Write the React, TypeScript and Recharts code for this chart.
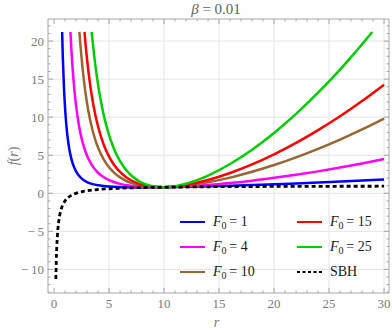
import { LineChart, Line, XAxis, YAxis, CartesianGrid, ReferenceLine, ReferenceArea, Legend } from "recharts";

const W = 392;
const H = 333;
const SERIF = "'Liberation Serif', 'Times New Roman', serif";

const X_MIN = -0.55;
const X_MAX = 30.45;
const Y_MIN = -13.1;
const Y_MAX = 22.9;
const PLOT_W = 341;
const PLOT_H = 274;

const X_TICKS = [0, 5, 10, 15, 20, 25, 30];
const Y_TICKS = [-10, -5, 0, 5, 10, 15, 20];
const X_GRID = [5, 10, 15, 20, 25, 30];
const X_MINOR = Array.from({ length: 30 }, (_, i) => i + 1).filter((v) => v % 5 !== 0);
const Y_MINOR = Array.from({ length: 36 }, (_, i) => i - 13).filter((v) => v % 5 !== 0);

// F0 = 1
const R_BLUE = [0.735, 0.8, 0.9, 1, 1.1, 1.2, 1.3, 1.4, 1.5, 1.6, 1.8, 2, 2.25, 2.5, 2.75, 3, 3.5, 4, 4.5, 5, 6, 7, 8, 9, 10, 11, 12, 14, 16, 18, 20, 22, 24, 26, 28, 30];
const F_BLUE = [21.2, 17.78, 13.96, 11.25, 9.26, 7.76, 6.61, 5.7, 4.98, 4.39, 3.5, 2.88, 2.34, 1.96, 1.69, 1.48, 1.21, 1.05, 0.95, 0.88, 0.81, 0.78, 0.775, 0.78, 0.8, 0.82, 0.85, 0.92, 0.99, 1.08, 1.18, 1.29, 1.41, 1.54, 1.67, 1.82];

// F0 = 4
const R_MAGENTA = [1.49, 1.5, 1.6, 1.7, 1.8, 1.9, 2, 2.25, 2.5, 2.75, 3, 3.5, 4, 4.5, 5, 6, 7, 8, 9, 10, 11, 12, 14, 16, 18, 20, 22, 24, 26, 28, 30];
const F_MAGENTA = [21.2, 20.91, 18.29, 16.14, 14.34, 12.82, 11.52, 9.01, 7.23, 5.92, 4.93, 3.57, 2.7, 2.13, 1.73, 1.24, 0.98, 0.85, 0.8, 0.8, 0.84, 0.9, 1.09, 1.35, 1.66, 2.03, 2.43, 2.88, 3.38, 3.91, 4.49];

// F0 = 10
const R_BROWN = [2.305, 2.4, 2.5, 2.75, 3, 3.25, 3.5, 3.75, 4, 4.5, 5, 5.5, 6, 6.5, 7, 7.5, 8, 9, 10, 11, 12, 14, 16, 18, 20, 22, 24, 26, 28, 30];
const F_BROWN = [21.2, 19.44, 17.78, 14.39, 11.83, 9.85, 8.29, 7.03, 6.01, 4.49, 3.41, 2.65, 2.09, 1.68, 1.38, 1.16, 1.0, 0.83, 0.8, 0.86, 1.0, 1.45, 2.06, 2.83, 3.71, 4.72, 5.84, 7.06, 8.39, 9.82];

// F0 = 15
const R_RED = [2.765, 2.875, 3, 3.25, 3.5, 3.75, 4, 4.5, 5, 5.5, 6, 6.5, 7, 7.5, 8, 9, 10, 11, 12, 14, 16, 18, 20, 22, 24, 26, 28, 30];
const F_RED = [21.2, 19.4, 17.58, 14.59, 12.22, 10.31, 8.77, 6.45, 4.82, 3.65, 2.8, 2.17, 1.71, 1.37, 1.13, 0.86, 0.8, 0.89, 1.09, 1.74, 2.66, 3.79, 5.12, 6.62, 8.3, 10.12, 12.12, 14.27];

// F0 = 25
const R_GREEN = [3.42, 3.5, 3.625, 3.75, 4, 4.25, 4.5, 5, 5.5, 6, 6.5, 7, 7.5, 8, 8.5, 9, 10, 11, 12, 13, 14, 16, 18, 20, 22, 24, 26, 27, 28, 28.92];
const F_GREEN = [21.2, 20.08, 18.39, 16.88, 14.28, 12.15, 10.38, 7.63, 5.66, 4.22, 3.16, 2.37, 1.8, 1.38, 1.1, 0.92, 0.8, 0.93, 1.25, 1.73, 2.33, 3.85, 5.73, 7.93, 10.43, 13.22, 16.26, 17.89, 19.58, 21.2];

// Schwarzschild
const R_SBH = [0.163, 0.2, 0.25, 0.3, 0.35, 0.4, 0.5, 0.6, 0.7, 0.8, 1, 1.25, 1.5, 2, 2.5, 3, 4, 5, 6, 8, 10, 12, 15, 20, 25, 30];
const F_SBH = [-11.27, -9, -7, -5.67, -4.71, -4, -3, -2.33, -1.86, -1.5, -1, -0.6, -0.33, 0, 0.2, 0.33, 0.5, 0.6, 0.67, 0.75, 0.8, 0.83, 0.87, 0.9, 0.92, 0.93];

const toPoints = (rs: number[], fs: number[]) => rs.map((r, i) => ({ r, f: fs[i] }));

const SERIES = [
  { f0: "1", color: "#0000ff", data: toPoints(R_BLUE, F_BLUE) },
  { f0: "4", color: "#ff00ff", data: toPoints(R_MAGENTA, F_MAGENTA) },
  { f0: "10", color: "#996633", data: toPoints(R_BROWN, F_BROWN) },
  { f0: "15", color: "#ff0000", data: toPoints(R_RED, F_RED) },
  { f0: "25", color: "#00cc00", data: toPoints(R_GREEN, F_GREEN) },
];
const SBH = toPoints(R_SBH, F_SBH);

const FRAME = "#a6a6a6";
const LABEL = "#7a7a7a";

const pxX = (X_MAX - X_MIN) / PLOT_W;
const pxY = (Y_MAX - Y_MIN) / PLOT_H;

const fmt = (v: number) => (v < 0 ? `\u2212\u2009${Math.abs(v)}` : `${v}`);

function FrameLegend() {
  const items = [
    ...SERIES.map((s) => ({ key: s.f0, color: s.color, dashed: false, f0: s.f0 })),
    { key: "sbh", color: "#000", dashed: true, f0: "" },
  ];
  return (
    <div style={{ position: "relative", width: 200, height: 70, fontFamily: SERIF, fontSize: 14, color: "#1a1a1a" }}>
      {items.map((it, i) => {
        const col = Math.floor(i / 3);
        const row = i % 3;
        return (
          <div key={it.key} style={{ position: "absolute", left: col * 117, top: row * 25, height: 20, display: "flex", alignItems: "center", whiteSpace: "nowrap" }}>
            <svg width={25} height={20} style={{ display: "block" }}>
              <line x1={0} x2={25} y1={10} y2={10} stroke={it.color} strokeWidth={2} strokeDasharray={it.dashed ? "3 2.5" : undefined} />
            </svg>
            <span style={{ marginLeft: 8, lineHeight: "20px" }}>
              {it.dashed ? (
                "SBH"
              ) : (
                <>
                  <i>F</i>
                  <span style={{ fontSize: 10, position: "relative", top: 3 }}>0</span>
                  {`\u2009= ${it.f0}`}
                </>
              )}
            </span>
          </div>
        );
      })}
    </div>
  );
}

export default function App() {
  return (
    <div style={{ position: "absolute", left: 0, top: 0, width: W, height: H, background: "#fff" }}>
      <LineChart width={W} height={H} margin={{ top: 19, right: 3, left: 0, bottom: 0 }}>
        <CartesianGrid stroke="#e4e4e4" strokeWidth={1} horizontalValues={Y_TICKS} verticalValues={X_GRID} />
        <XAxis
          type="number"
          dataKey="r"
          domain={[X_MIN, X_MAX]}
          ticks={X_TICKS}
          interval={0}
          allowDataOverflow
          axisLine={false}
          tickLine={false}
          tickSize={0}
          tickMargin={6}
          height={40}
          tick={{ fill: LABEL, fontSize: 13, fontFamily: SERIF }}
          label={(p: any) => {
            const vb = p.viewBox || { x: 48, y: 293, width: PLOT_W, height: 40 };
            return (
              <text x={vb.x + vb.width / 2 - 2} y={vb.y + 34} textAnchor="middle" fill={LABEL} fontFamily={SERIF} fontSize={14} fontStyle="italic">
                r
              </text>
            );
          }}
        />
        <YAxis
          type="number"
          domain={[Y_MIN, Y_MAX]}
          ticks={Y_TICKS}
          interval={0}
          allowDataOverflow
          axisLine={false}
          tickLine={false}
          tickSize={0}
          tickMargin={4}
          width={48}
          tickFormatter={fmt}
          tick={{ fill: LABEL, fontSize: 13, fontFamily: SERIF }}
          label={(p: any) => {
            const vb = p.viewBox || { x: 0, y: 19, width: 48, height: PLOT_H };
            const cy = vb.y + vb.height / 2;
            return (
              <text x={18} y={cy} textAnchor="middle" transform={`rotate(-90 18 ${cy})`} fill={LABEL} fontFamily={SERIF} fontSize={14}>
                <tspan fontStyle="italic">f</tspan>(<tspan fontStyle="italic">r</tspan>)
              </text>
            );
          }}
        />
        <ReferenceArea x1={X_MIN} x2={X_MAX} y1={Y_MIN} y2={Y_MAX} fill="none" fillOpacity={0} stroke={FRAME} strokeWidth={1} ifOverflow="visible" />
        {[...X_TICKS.map((v) => [v, 5]), ...X_MINOR.map((v) => [v, 2.5])].map(([v, len]) => [
          <ReferenceLine key={`xb${v}`} segment={[{ x: v, y: Y_MIN }, { x: v, y: Y_MIN + len * pxY }]} stroke={FRAME} ifOverflow="visible" />,
          <ReferenceLine key={`xt${v}`} segment={[{ x: v, y: Y_MAX }, { x: v, y: Y_MAX - len * pxY }]} stroke={FRAME} ifOverflow="visible" />,
        ])}
        {[...Y_TICKS.map((v) => [v, 5]), ...Y_MINOR.map((v) => [v, 2.5])].map(([v, len]) => [
          <ReferenceLine key={`yl${v}`} segment={[{ x: X_MIN, y: v }, { x: X_MIN + len * pxX, y: v }]} stroke={FRAME} ifOverflow="visible" />,
          <ReferenceLine key={`yr${v}`} segment={[{ x: X_MAX, y: v }, { x: X_MAX - len * pxX, y: v }]} stroke={FRAME} ifOverflow="visible" />,
        ])}
        {SERIES.map((s) => (
          <Line
            key={s.f0}
            data={s.data}
            dataKey="f"
            type="monotone"
            stroke={s.color}
            strokeWidth={2.5}
            dot={false}
            activeDot={false}
            isAnimationActive={false}
          />
        ))}
        <Line data={SBH} dataKey="f" type="monotone" stroke="#000" strokeWidth={2.8} strokeDasharray="4 3" dot={false} activeDot={false} isAnimationActive={false} />
        <Legend
          layout="horizontal"
          verticalAlign="middle"
          align="center"
          wrapperStyle={{ left: 180, top: 212, width: 200, height: 70 }}
          content={() => <FrameLegend />}
        />
      </LineChart>
      <div style={{ position: "absolute", left: 156, top: 1, width: 120, textAlign: "center", fontFamily: SERIF, fontSize: 15, lineHeight: "16px", color: "#606060" }}>
        <i>β</i> = 0.01
      </div>
    </div>
  );
}
